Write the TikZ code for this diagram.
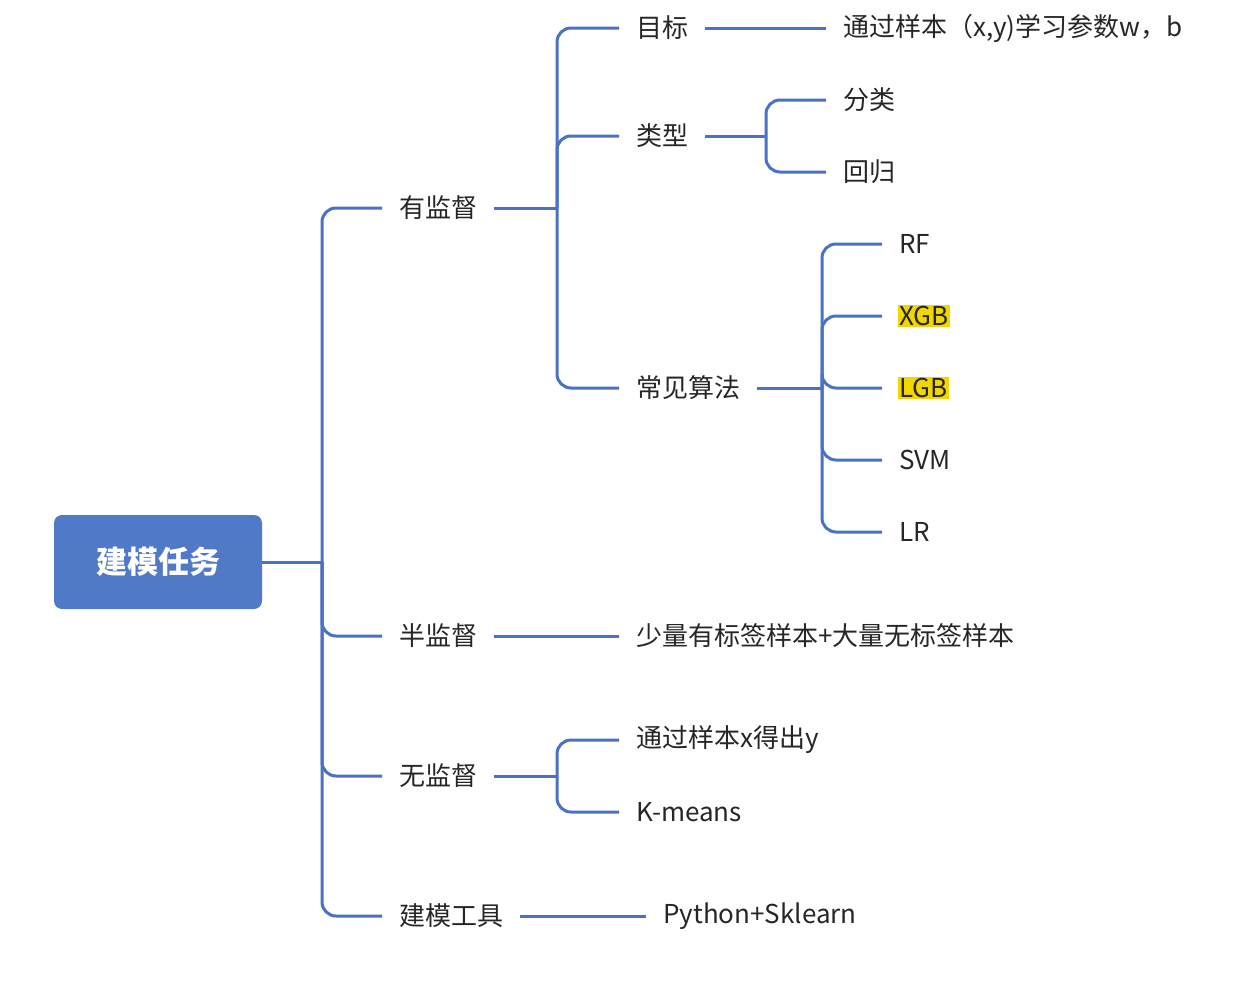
\documentclass[tikz,border=0pt]{standalone}
\usepackage{fontspec}
\setmainfont{Noto Sans CJK SC}
\usetikzlibrary{calc}
\definecolor{lineblue}{HTML}{4A72C4}
\definecolor{rootblue}{HTML}{5079C8}
\definecolor{hl}{HTML}{F2D600}
\tikzset{
  conn/.style={draw=lineblue,line width=3pt,rounded corners=14pt},
  lbl/.style={anchor=west,inner sep=0pt,font=\fontsize{26}{30}\selectfont,text=black!85},
  hlbl/.style={lbl,fill=hl,inner sep=1pt},
}
\begin{document}
\begin{tikzpicture}[x=1pt,y=-1pt]
\useasboundingbox (0,0) rectangle (1256,983);
\node[fill=rootblue,rounded corners=8pt,minimum width=208pt,minimum height=94pt,text=white,font=\bfseries\fontsize{31}{34}\selectfont] (root) at (158,562) {建模任务};
% level 1
\node[lbl] (sup) at (399,208) {有监督};
\node[lbl] (semi) at (399,636) {半监督};
\node[lbl] (unsup) at (399,776) {无监督};
\node[lbl] (tool) at (399,916) {建模工具};
% supervised children
\node[lbl] (goal) at (636,28) {目标};
\node[lbl] (type) at (636,136) {类型};
\node[lbl] (algo) at (636,388) {常见算法};
\node[lbl] (goalt) at (843,28) {通过样本（x,y)学习参数w，b};
\node[lbl] (cls) at (843,100) {分类};
\node[lbl] (reg) at (843,172) {回归};
\node[lbl] (rf) at (899,244) {RF};
\node[hlbl] (xgb) at (898,316) {XGB};
\node[hlbl] (lgb) at (898,388) {LGB};
\node[lbl] (svm) at (899,460) {SVM};
\node[lbl] (lr) at (899,532) {LR};
\node[lbl] (semit) at (636,636) {少量有标签样本+大量无标签样本};
\node[lbl] (u1) at (636,740) {通过样本x得出y};
\node[lbl] (u2) at (636,812) {K-means};
\node[lbl] (py) at (663,916) {Python+Sklearn};
% root trunk
\draw[conn] (root.east) -- (322,562);
\foreach \c in {sup,semi,unsup,tool}
  \draw[conn] (322,562) -- (322,0 |- \c.west) -- ($(\c.west)+(-17,0)$);
% sup
\draw[conn] ($(sup.east)+(17,0)$) -- (557,208);
\foreach \c in {goal,type,algo}
  \draw[conn] (557,208) -- (557,0 |- \c.west) -- ($(\c.west)+(-17,0)$);
\draw[conn] ($(goal.east)+(17,0)$) -- ($(goalt.west)+(-17,0)$);
\draw[conn] ($(type.east)+(17,0)$) -- (766,136);
\foreach \c in {cls,reg}
  \draw[conn] (766,136) -- (766,0 |- \c.west) -- ($(\c.west)+(-17,0)$);
\draw[conn] ($(algo.east)+(17,0)$) -- (822,388);
\foreach \c in {rf,xgb,lgb,svm,lr}
  \draw[conn] (822,388) -- (822,0 |- \c.west) -- (882,0 |- \c.west);
% semi
\draw[conn] ($(semi.east)+(17,0)$) -- ($(semit.west)+(-17,0)$);
% unsup
\draw[conn] ($(unsup.east)+(17,0)$) -- (557,776);
\foreach \c in {u1,u2}
  \draw[conn] (557,776) -- (557,0 |- \c.west) -- ($(\c.west)+(-17,0)$);
% tool
\draw[conn] ($(tool.east)+(17,0)$) -- ($(py.west)+(-17,0)$);
\end{tikzpicture}
\end{document}
